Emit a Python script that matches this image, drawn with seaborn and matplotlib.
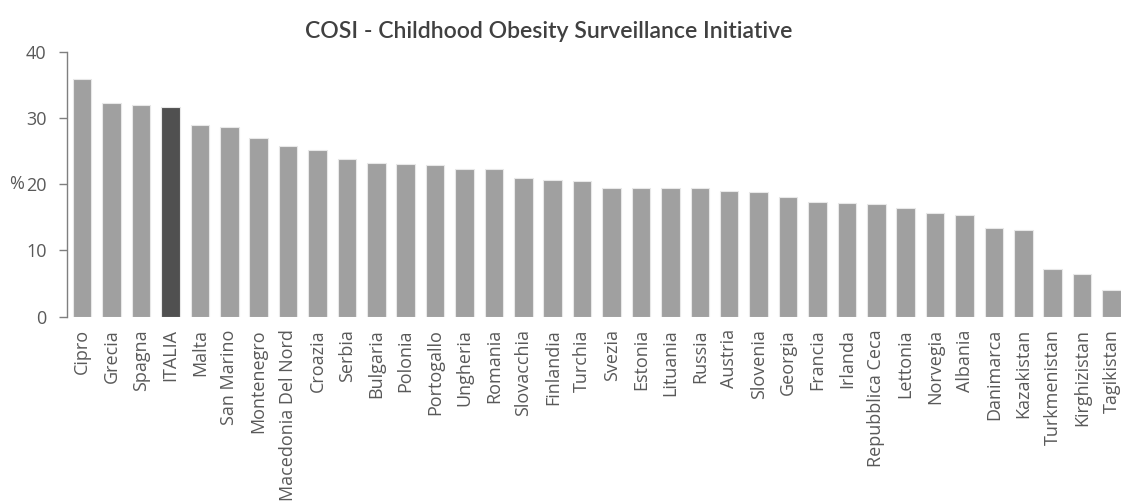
import matplotlib
matplotlib.use('Agg')
import matplotlib.pyplot as plt
import seaborn as sns
import pandas as pd

# dati COSI - prevalenza sovrappeso (%)
paesi = ['Cipro', 'Grecia', 'Spagna', 'ITALIA', 'Malta', 'San Marino', 'Montenegro',
         'Macedonia Del Nord', 'Croazia', 'Serbia', 'Bulgaria', 'Polonia', 'Portogallo',
         'Ungheria', 'Romania', 'Slovacchia', 'Finlandia', 'Turchia', 'Svezia', 'Estonia',
         'Lituania', 'Russia', 'Austria', 'Slovenia', 'Georgia', 'Francia', 'Irlanda',
         'Repubblica Ceca', 'Lettonia', 'Norvegia', 'Albania', 'Danimarca', 'Kazakistan',
         'Turkmenistan', 'Kirghizistan', 'Tagikistan']
valori = [35.9, 32.2, 31.95, 31.6, 29.0, 28.7, 26.9, 25.7, 25.1, 23.8, 23.2, 23.0, 22.95,
          22.25, 22.25, 20.9, 20.6, 20.5, 19.5, 19.5, 19.4, 19.4, 18.9, 18.8, 18.1, 17.3,
          17.1, 16.95, 16.35, 15.7, 15.35, 13.4, 13.1, 7.25, 6.4, 4.0]
evidenziato = 'ITALIA'
yticks = [0, 10, 20, 30, 40]

sns.set_style('white')
plt.rcParams['font.family'] = ['Open Sans', 'DejaVu Sans']

df = pd.DataFrame({'Paese': paesi, 'Valore': valori})
colori = {p: ('#505050' if p == evidenziato else '#a0a0a0') for p in paesi}

fig = plt.figure(figsize=(11.21, 5.03), dpi=100)
ax = fig.add_axes([0.0602, 0.3704, 0.9445, 0.5268])
sns.barplot(data=df, x='Paese', y='Valore', hue='Paese', palette=colori, legend=False,
            width=0.63, edgecolor='#e8e8e8', linewidth=0.8, ax=ax)

ax.set_ylim(0, 40)
ax.set_xlim(-0.5, len(paesi) - 0.5)
ax.set_yticks(yticks)
ax.tick_params(axis='y', length=6, width=1, color='#7f7f7f', labelsize=13,
               labelcolor='#595959', pad=9, left=True)
ax.tick_params(axis='x', length=0, labelsize=13, labelcolor='#595959', pad=9)
ax.set_xticks(range(len(paesi)))
ax.set_xticklabels(paesi, rotation=90)
for s in ['top', 'right', 'bottom']:
    ax.spines[s].set_visible(False)
ax.spines['left'].set_color('#7f7f7f')
ax.spines['left'].set_linewidth(1)
ax.set_xlabel('')
ax.set_ylabel('')
ax.grid(False)

fig.text(0.0085, 1 - 184 / 503, '%', fontsize=13, color='#595959', va='center', ha='left')
fig.text(549 / 1121, 1 - 31 / 503, 'COSI - Childhood Obesity Surveillance Initiative',
         fontsize=16.6, color='#404040', ha='center', va='center',
         family=['Lato', 'DejaVu Sans'], fontweight='semibold')

fig.savefig('out.png', dpi=100, facecolor='white')
